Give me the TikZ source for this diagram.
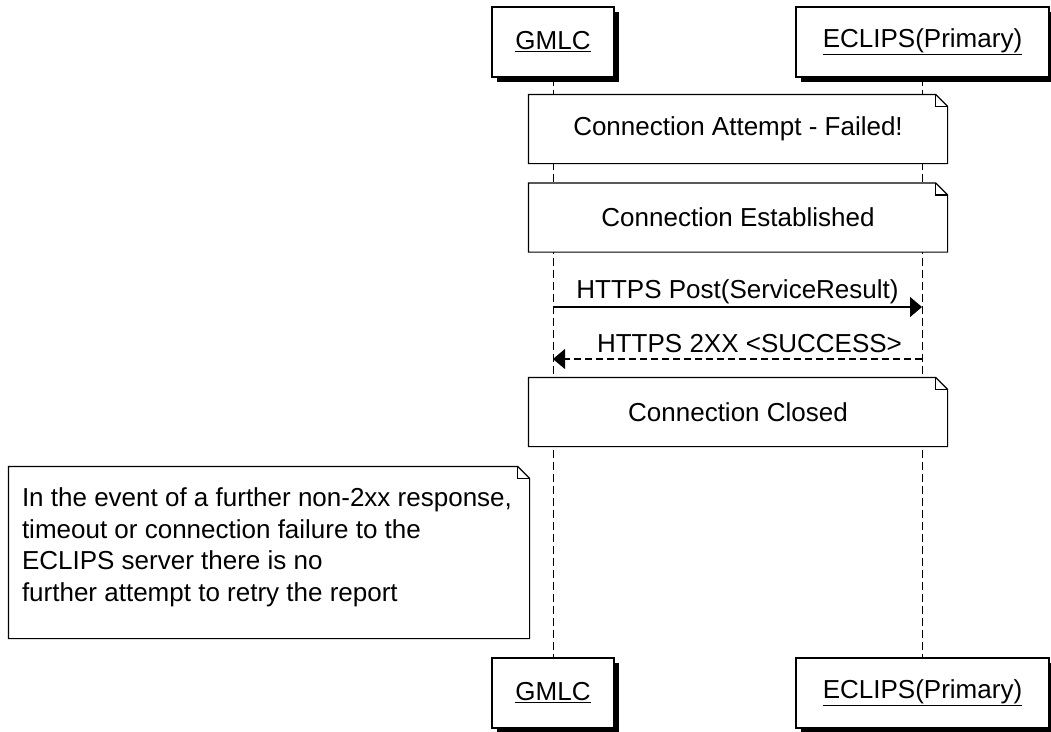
\documentclass[tikz,border=0pt]{standalone}
\usepackage{fontspec}
\setmainfont{Liberation Sans}
\usetikzlibrary{arrows.meta,shadows,backgrounds}

\begin{document}
\begin{tikzpicture}[x=1pt, y=-1pt, line width=1.2pt,
  font=\fontsize{26}{31.5}\selectfont,
  actor/.style = {draw, fill=white, minimum height=70pt, inner sep=0pt,
    drop shadow={fill=black, opacity=1, shadow xshift=5pt, shadow yshift=-5pt}},
  note/.style = {minimum width=418pt, minimum height=68pt, inner sep=0pt,
    append after command={\pgfextra{
      \filldraw[fill=white] (\tikzlastnode.north west) -- ([xshift=-12pt]\tikzlastnode.north east)
        -- ([yshift=-12pt]\tikzlastnode.north east) -- (\tikzlastnode.south east)
        -- (\tikzlastnode.south west) -- cycle;
      \draw ([xshift=-12pt]\tikzlastnode.north east) |- ([yshift=-12pt]\tikzlastnode.north east);}}},
  lifeline/.style = {dash pattern=on 8pt off 4pt},
  msg/.style = {-{Triangle[length=12pt,width=20pt]}},
  reply/.style = {msg, dash pattern=on 7pt off 4pt},
  msglabel/.style = {midway, anchor=base, inner sep=0pt}]
\useasboundingbox (0,0) rectangle (1051,731);
% actors, top and bottom
\node[actor, minimum width=122pt] (gmlcTop) at (553,42) {\underline{GMLC}};
\node[actor, minimum width=253pt] (eclTop) at (922.5,42) {\underline{ECLIPS(Primary)}};
\node[actor, minimum width=122pt] (gmlcBot) at (553,693) {\underline{GMLC}};
\node[actor, minimum width=253pt] (eclBot) at (922.5,693) {\underline{ECLIPS(Primary)}};
% lifelines
\begin{scope}[on background layer]
\draw[lifeline] (gmlcTop) -- (gmlcBot);
\draw[lifeline] (eclTop) -- (eclBot);
\end{scope}
% notes
\node[note] (failed) at (738,129) {Connection Attempt - Failed!};
\node[note] (established) at (738,217.5) {Connection Established};
% messages
\coordinate (postFrom) at (553,307);
\coordinate (postTo) at (922,307);
\coordinate (okFrom) at (922,359);
\coordinate (okTo) at (553,359);
\draw[msg] (postFrom) -- node[msglabel, yshift=9pt] {HTTPS Post(ServiceResult)} (postTo);
\draw[reply] (okFrom) -- node[msglabel, yshift=7pt, xshift=12pt] {HTTPS 2XX <SUCCESS>} (okTo);
\node[note] (closed) at (738,412) {Connection Closed};
% retry note
\node[note, minimum width=520pt, minimum height=171pt] (retry) at (269,552.5) {};
\node[anchor=north west, align=left, inner sep=0pt] (retryText) at ([xshift=13pt,yshift=-21pt]retry.north west)
  {In the event of a further non-2xx response,\\timeout or connection failure to the\\ECLIPS server there is no\\further attempt to retry the report};
\end{tikzpicture}
\end{document}
